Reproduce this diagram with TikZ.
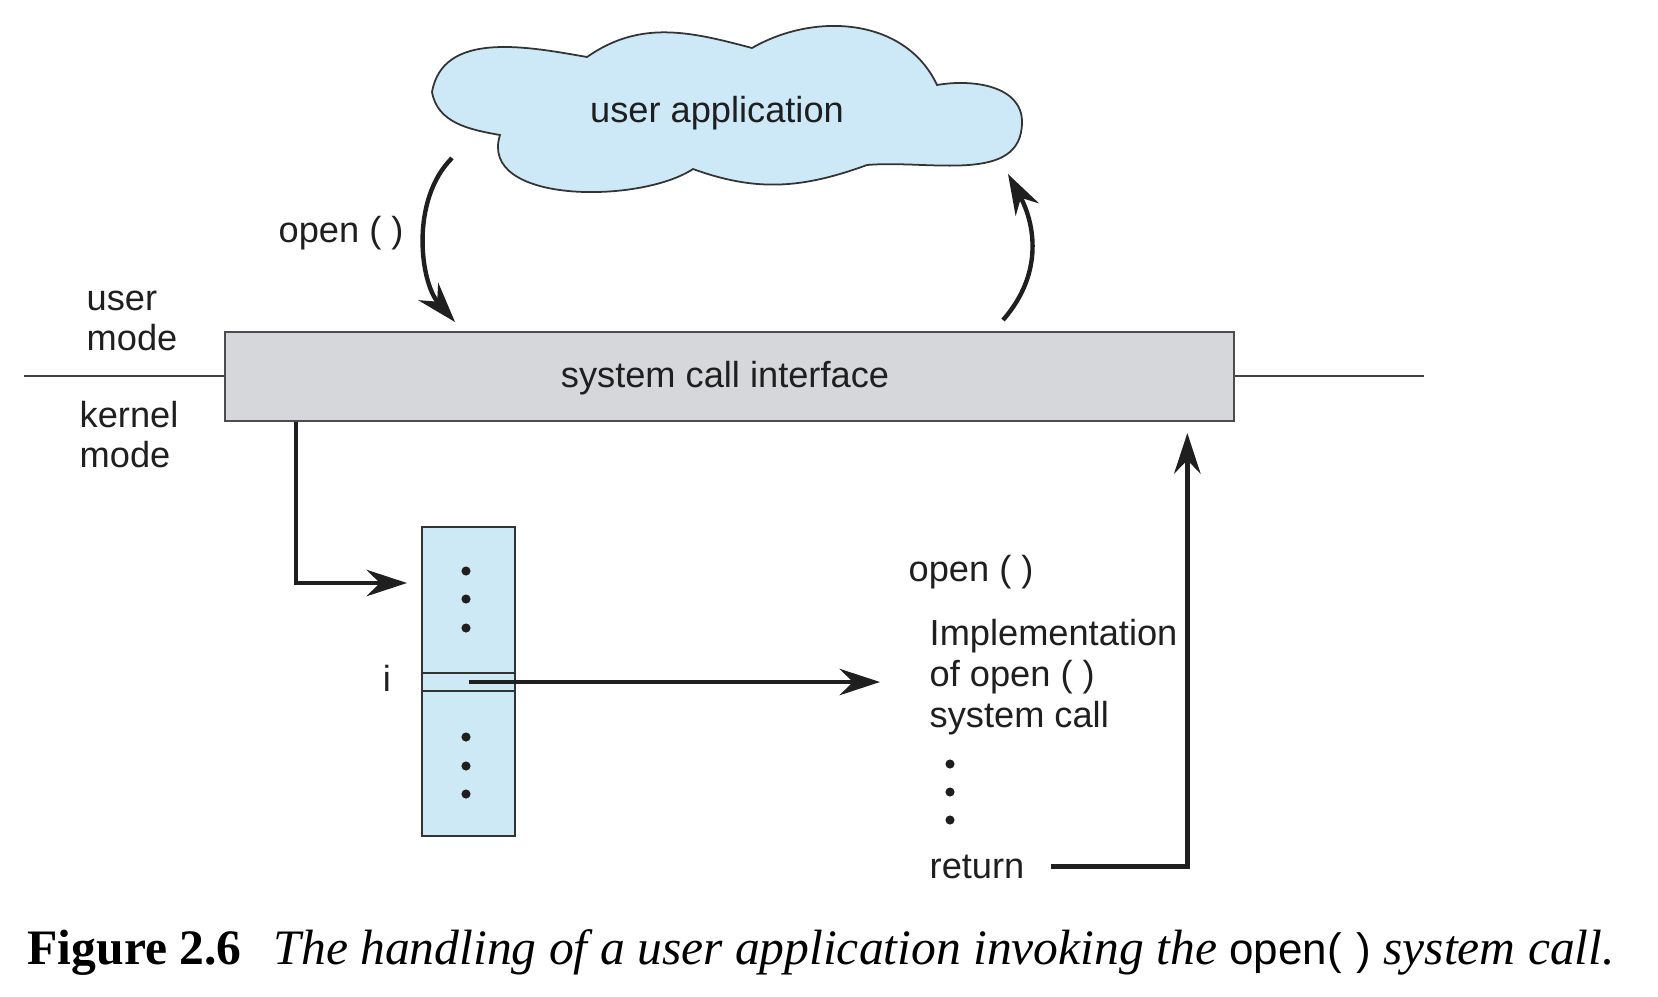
\documentclass[tikz,border=0pt]{standalone}
\usepackage{fontspec}
\setmainfont{Liberation Serif}
\newfontfamily\diagfont{Liberation Sans}
\usepackage{xcolor}
\usetikzlibrary{positioning}
\usetikzlibrary{arrows.meta}

\definecolor{cloudblue}{RGB}{205,233,247}
\definecolor{tableblue}{RGB}{205,233,246}
\definecolor{ifacegray}{RGB}{213,215,218}

\begin{document}
\begin{tikzpicture}[x=0.01cm, y=0.01cm,
modetext/.style={font=\diagfont\fontsize{10.3}{11.7}\selectfont, text=black!88, inner sep=0pt},
captext/.style={font=\fontsize{14.1}{16}\selectfont, inner sep=0pt},
callbox/.style={rectangle, draw=black!70, fill=ifacegray, line width=0.6pt, minimum width=10.09cm, minimum height=0.89cm},
tablebox/.style={rectangle, draw=black!80, fill=tableblue, line width=0.6pt, minimum width=0.93cm, minimum height=3.09cm},
rowbox/.style={rectangle, draw=black!80, line width=0.5pt, minimum width=0.93cm, minimum height=0.18cm, inner sep=0pt},
callarrow/.style={-{Stealth[length=11.5pt, width=7.5pt, inset=3.8pt]}, line width=1.25pt, black!88}]
\useasboundingbox (0,0) rectangle (1658,-996);
\fill[white] (0,0) rectangle (1658,-996);

% user / kernel boundary
\draw[black!75, line width=0.4pt] (24,-376) -- (1424,-376);
\node[callbox] (sci) at (729.5,-376.5) {};
\node[modetext] (scitext) at (725,-378) {system call interface};

% cloud
\draw[black!80, fill=cloudblue, line width=0.5pt]
  (432,-92) to[out=80,in=170] (587,-57)
  to[out=35,in=165] (752,-48)
  to[out=30,in=115] (937,-85)
  to[out=10,in=90] (1022,-122)
  to[out=-90,in=5] (867,-165)
  to[out=-160,in=-20] (693,-169)
  .. controls (640,-204) and (478,-204) .. (500,-135)
  to[out=170,in=-80] (432,-92) -- cycle;
\node[modetext, anchor=base] (app) at (717,-122) {user application};

\node[modetext, anchor=base west] (opencall) at (278,-242) {open ( )};
\node[modetext, anchor=base west] (user) at (86,-310) {user};
\node[modetext, anchor=base west] (umode) at (86,-350) {mode};
\node[modetext, anchor=base west] (kernel) at (79,-427) {kernel};
\node[modetext, anchor=base west] (kmode) at (79,-467) {mode};

\coordinate (callout) at (452,-158);
\coordinate (callin) at (455,-322);
\coordinate (retout) at (1003,-320);
\coordinate (retin) at (1008,-174);
\draw[callarrow] (callout) .. controls (410,-200) and (420,-282) .. (callin);
\draw[callarrow] (retout) .. controls (1045,-272) and (1034,-222) .. (retin);

% system call table
\node[tablebox] (tbl) at (468.5,-681.5) {};
\node[rowbox] (irow) at (468.5,-682) {};
\foreach \y in {571,599,628,737,766,794}
  \fill[black!88] (466,-\y) circle (1.3pt);
\node[modetext, anchor=base] (ilabel) at (387,-691) {i};

% implementation of open()
\node[modetext, anchor=base west] (openimpl) at (908,-581) {open ( )};
\node[modetext, anchor=base west] (impl1) at (929,-645) {Implementation};
\node[modetext, anchor=base west] (impl2) at (929,-686) {of open ( )};
\node[modetext, anchor=base west] (impl3) at (929,-727) {system call};
\foreach \y in {764,792,820}
  \fill[black!88] (950,-\y) circle (1.3pt);
\node[modetext, anchor=base west] (ret) at (929,-878) {return};

\coordinate (tblin) at (407,-583);
\coordinate (implin) at (880,-682);
\draw[callarrow] ([xshift=0.72cm]sci.south west) |- (tblin);
\draw[callarrow] (irow.center) -- (implin);
\draw[callarrow] ([xshift=0.26cm]ret.east) -| ([xshift=-0.48cm,yshift=-0.11cm]sci.south east);

% caption
\node[captext, anchor=base west] (caption) at (27,-964) {\textbf{Figure 2.6}\hspace{0.32cm}\textit{The handling of a user application invoking the} {\diagfont\fontsize{12.5}{14}\selectfont open(\,\,)} \textit{system call.}};
\end{tikzpicture}
\end{document}
